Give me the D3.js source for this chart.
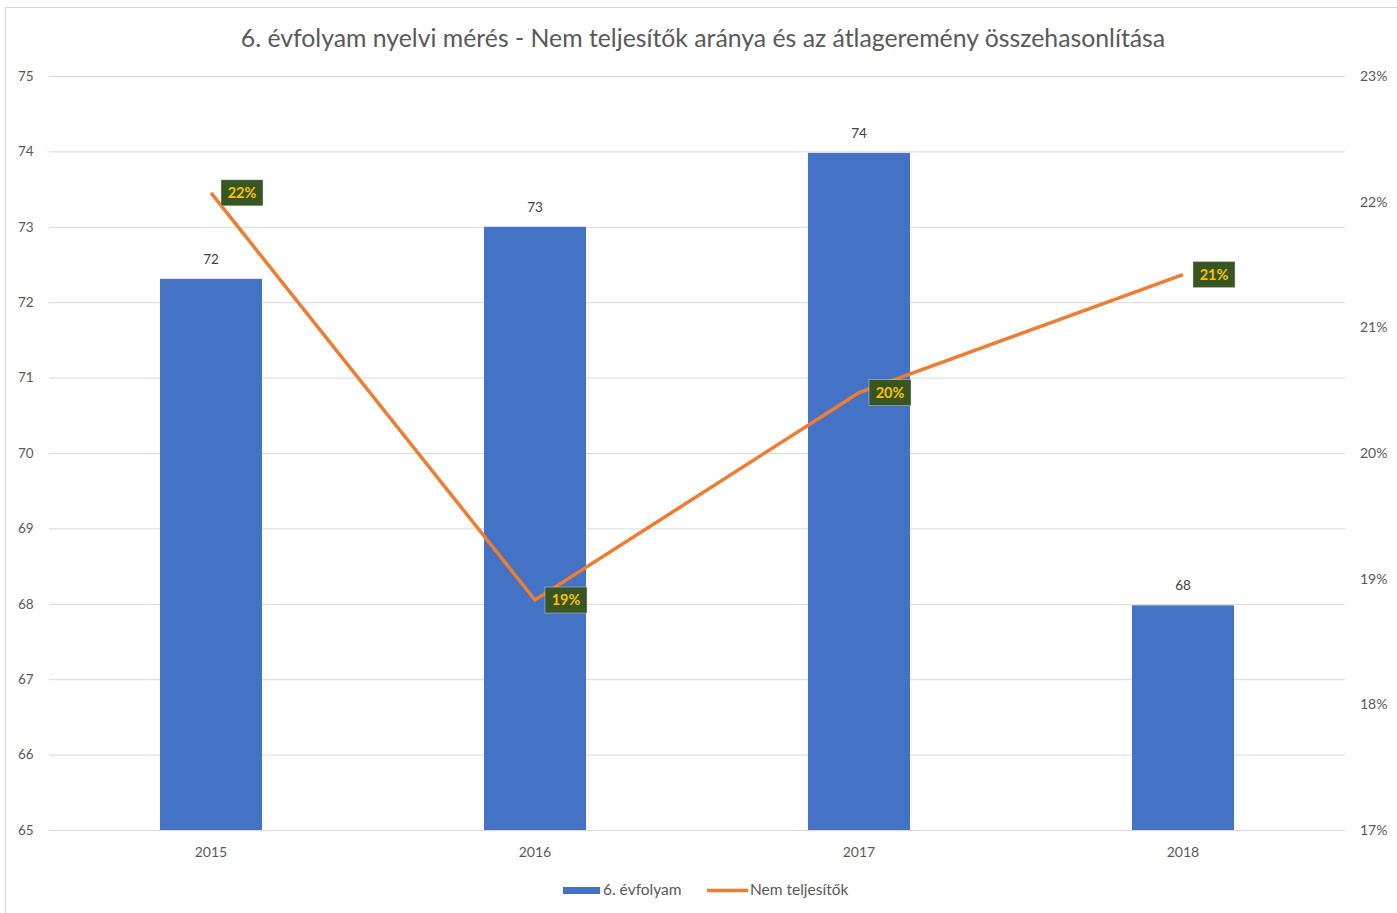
<!DOCTYPE html>
<head>
<meta charset="utf-8">
<title>Chart</title>
<style>
  body { margin: 0; background: #fff; }
  svg text { font-family: Lato, "Open Sans", sans-serif; }
</style>
</head>
<body>
<script src="https://cdn.jsdelivr.net/npm/d3@7"></script>
<script>
var years = ["2015", "2016", "2017", "2018"];
var atlag = [72.31, 73.0, 73.98, 67.98];
var atlagLabels = ["72", "73", "74", "68"];
var nemTelj = [22.07, 18.83, 20.48, 21.42];
var nemTeljLabels = ["22%", "19%", "20%", "21%"];
var leftTicks = [65, 66, 67, 68, 69, 70, 71, 72, 73, 74, 75];
var rightTicks = [17, 18, 19, 20, 21, 22, 23];

var W = 1397, H = 913;
var margin = { top: 76, right: 52, bottom: 83, left: 49 },
    width = W - margin.left - margin.right,
    height = H - margin.top - margin.bottom;

var svg = d3.select("body").append("svg")
    .attr("width", W)
    .attr("height", H);

// chart frame
svg.append("rect")
    .attr("x", 5.5).attr("y", 7.5)
    .attr("width", W + 10).attr("height", H + 10)
    .attr("fill", "none")
    .attr("stroke", "#d4d4d4");

svg.append("text")
    .attr("x", 703).attr("y", 47)
    .attr("text-anchor", "middle")
    .attr("fill", "#595959")
    .style("font-size", "24.8px")
    .text("6. évfolyam nyelvi mérés - Nem teljesítők aránya és az átlageremény összehasonlítása");

var g = svg.append("g")
    .attr("transform", "translate(" + margin.left + "," + margin.top + ")");

var x = d3.scaleBand().domain(years).range([0, width]).padding(0);
var y = d3.scaleLinear().domain([65, 75]).range([height, 0]);
var y2 = d3.scaleLinear().domain([17, 23]).range([height, 0]);

// gridlines
g.selectAll(".grid").data(leftTicks).enter().append("line")
    .attr("x1", 0).attr("x2", width)
    .attr("y1", function (d) { return y(d) + 0.5; })
    .attr("y2", function (d) { return y(d) + 0.5; })
    .attr("stroke", "#d9d9d9");

// left axis labels
g.selectAll(".ly").data(leftTicks).enter().append("text")
    .attr("x", -31).attr("y", function (d) { return y(d); })
    .attr("dy", "0.35em")
    .attr("fill", "#595959")
    .style("font-size", "13.5px")
    .text(function (d) { return d; });

// right axis labels
g.selectAll(".ry").data(rightTicks).enter().append("text")
    .attr("x", width + 15).attr("y", function (d) { return y2(d); })
    .attr("dy", "0.35em")
    .attr("fill", "#595959")
    .style("font-size", "14px")
    .text(function (d) { return d + "%"; });

// x labels
g.selectAll(".xl").data(years).enter().append("text")
    .attr("x", function (d) { return x(d) + x.bandwidth() / 2; })
    .attr("y", height + 27)
    .attr("text-anchor", "middle")
    .attr("fill", "#595959")
    .style("font-size", "14px")
    .text(function (d) { return d; });

var barW = x.bandwidth() * 0.315;

g.selectAll(".bar").data(years).enter().append("rect")
    .attr("x", function (d) { return x(d) + x.bandwidth() / 2 - barW / 2; })
    .attr("y", function (d, i) { return y(atlag[i]); })
    .attr("width", barW)
    .attr("height", function (d, i) { return height - y(atlag[i]); })
    .attr("fill", "#4472c4");

g.selectAll(".barlbl").data(years).enter().append("text")
    .attr("x", function (d) { return x(d) + x.bandwidth() / 2; })
    .attr("y", function (d, i) { return y(atlag[i]) - 15; })
    .attr("text-anchor", "middle")
    .attr("fill", "#404040")
    .style("font-size", "13.5px")
    .text(function (d, i) { return atlagLabels[i]; });

var line = d3.line()
    .x(function (d, i) { return x(years[i]) + x.bandwidth() / 2; })
    .y(function (d) { return y2(d); });

g.append("path")
    .datum(nemTelj)
    .attr("fill", "none")
    .attr("stroke", "#ed7d31")
    .attr("stroke-width", 3.5)
    .attr("d", line);

var lbl = g.selectAll(".ptlbl").data(nemTelj).enter().append("g")
    .attr("transform", function (d, i) {
        return "translate(" + (x(years[i]) + x.bandwidth() / 2 + 10) + "," + y2(d) + ")";
    });
lbl.append("rect")
    .attr("x", 0).attr("y", -13)
    .attr("width", 42).attr("height", 26)
    .attr("fill", "#375623")
    .attr("stroke", "#d0d0d0").attr("stroke-width", 0.5);
lbl.append("text")
    .attr("x", 21).attr("y", 0).attr("dy", "0.36em")
    .attr("text-anchor", "middle")
    .attr("fill", "#ffc000")
    .style("font-size", "14.5px")
    .style("font-weight", "bold")
    .text(function (d, i) { return nemTeljLabels[i]; });

// legend
var leg = svg.append("g").attr("transform", "translate(563,890)");
leg.append("rect").attr("x", 0).attr("y", -3).attr("width", 37).attr("height", 7).attr("fill", "#4472c4");
leg.append("text").attr("x", 40).attr("y", 0).attr("dy", "0.35em")
    .attr("fill", "#595959").style("font-size", "15.5px").text("6. évfolyam");
leg.append("line").attr("x1", 144).attr("x2", 185).attr("y1", 0.5).attr("y2", 0.5)
    .attr("stroke", "#ed7d31").attr("stroke-width", 3.5);
leg.append("text").attr("x", 187).attr("y", 0).attr("dy", "0.35em")
    .attr("fill", "#595959").style("font-size", "15.5px").text("Nem teljesítők");
</script>
</body>
